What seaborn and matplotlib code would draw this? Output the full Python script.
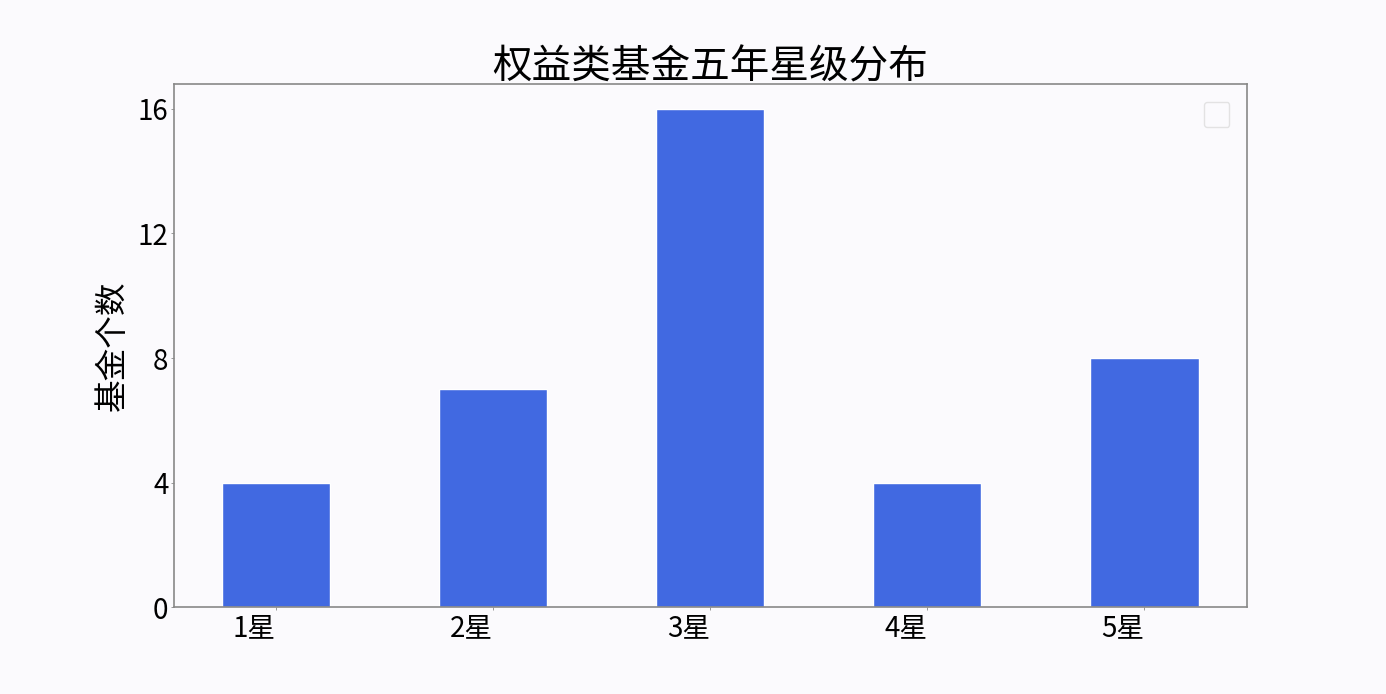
import matplotlib
matplotlib.use('Agg')
import matplotlib.pyplot as plt
import seaborn as sns
import pandas as pd

# 数据
stars = ['1星', '2星', '3星', '4星', '5星']
counts = [4, 7, 16, 4, 8]

df = pd.DataFrame({'星级': stars, '基金个数': counts})

sns.set_style('white')
plt.rcParams['font.family'] = ['Noto Sans CJK SC', 'DejaVu Sans']
plt.rcParams['axes.unicode_minus'] = False
plt.rcParams['text.color'] = 'black'
plt.rcParams['xtick.labelcolor'] = 'black'
plt.rcParams['ytick.labelcolor'] = 'black'

bg = '#fbfafd'
fig, ax = plt.subplots(figsize=(13.86, 6.94), dpi=100)
fig.patch.set_facecolor(bg)
ax.set_facecolor(bg)
fig.subplots_adjust(left=0.1255, right=0.9, top=0.879, bottom=0.125)

sns.barplot(data=df, x='星级', y='基金个数', color='royalblue', saturation=1,
            width=0.5, ax=ax)

ax.set_xlim(-0.47, 4.475)
ax.set_ylim(0, 16.8)
ax.set_yticks([0, 4, 8, 12, 16])
ax.set_title('权益类基金五年星级分布', fontsize=28.5, pad=4, color='black')
ax.set_xlabel('')
ax.set_ylabel('基金个数', fontsize=23.5, labelpad=6, color='black')
ax.tick_params(axis='both', labelsize=20, length=2, width=0.6, color='#888888',
               bottom=True, left=True, pad=2)
for lab in ax.get_xticklabels():
    lab.set_horizontalalignment('right')
for s in ax.spines.values():
    s.set_color('#888888')
    s.set_linewidth(1.2)

ax.legend(handles=[], loc='upper right', frameon=True, borderpad=0.9,
          borderaxespad=1.3, facecolor=bg, edgecolor='#dddddd')

plt.savefig('out.png', dpi=100, facecolor=bg)
